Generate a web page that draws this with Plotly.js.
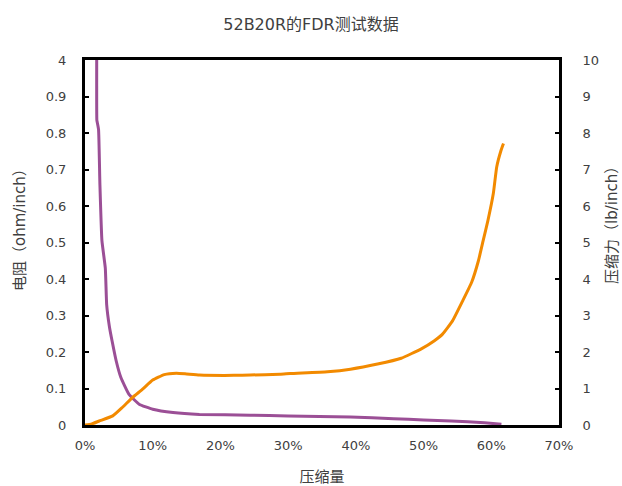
<!DOCTYPE html>
<html>
<head>
<meta charset="utf-8">
<script src="https://cdn.plot.ly/plotly-3.0.1.min.js"></script>
<style>html,body{margin:0;padding:0;background:#fff;}#chart{width:622px;height:486px;}</style>
</head>
<body>
<div id="chart"></div>
<script>
// Resistance series (left axis, ohm/inch)
var resX = [0.0175,0.0175,0.018,0.020,0.022,0.025,0.030,0.032,0.036,0.040,0.046,0.053,0.065,0.080,0.100,0.130,0.169,0.244,0.300,0.392,0.456,0.500,0.541,0.590,0.615];
var resY = [1.2,0.835,0.83,0.81,0.66,0.505,0.43,0.33,0.27,0.23,0.176,0.13,0.084,0.057,0.043,0.034,0.029,0.027,0.025,0.022,0.017,0.014,0.011,0.006,0.002];
// Compression force series (right axis, lb/inch)
var forceX = [0,0.010,0.021,0.041,0.055,0.070,0.085,0.100,0.117,0.135,0.150,0.169,0.220,0.244,0.288,0.303,0.358,0.392,0.432,0.467,0.496,0.516,0.528,0.543,0.558,0.571,0.581,0.588,0.595,0.603,0.608,0.614,0.618];
var forceY = [0,0.03,0.11,0.25,0.48,0.75,0.98,1.23,1.38,1.42,1.40,1.37,1.36,1.37,1.39,1.41,1.46,1.53,1.67,1.83,2.08,2.31,2.49,2.86,3.41,3.91,4.5,5.05,5.6,6.34,7.07,7.5,7.71];
// Tick labels
var leftTickVals = [0,0.1,0.2,0.3,0.4,0.5,0.6,0.7,0.8,0.9,1];
var leftTickText = ['0','0.1','0.2','0.3','0.4','0.5','0.6','0.7','0.8','0.9','4'];
var xTickVals = [0,0.1,0.2,0.3,0.4,0.5,0.6,0.7];
var xTickText = ['0%','10%','20%','30%','40%','50%','60%','70%'];

var W = 622, H = 486, L = 85, R = 63, T = 60, B = 61;
function px(x){ return (x - L) / (W - L - R); }
function py(y){ return 1 - (y - T) / (H - T - B); }

var font = '"DejaVu Sans", "Noto Sans CJK SC", sans-serif';
var txt = '#404040';
var traces = [
  {x: resX, y: resY, type: 'scatter', mode: 'lines', yaxis: 'y', line: {color: '#9B4F96', width: 3, shape: 'spline', smoothing: 0.4}, showlegend: false, hoverinfo: 'none'},
  {x: forceX, y: forceY, type: 'scatter', mode: 'lines', yaxis: 'y2', line: {color: '#F28A00', width: 3, shape: 'spline', smoothing: 0.4}, showlegend: false, hoverinfo: 'none'}
];
var layout = {
  width: W, height: H,
  margin: {l: L, r: R, t: T, b: B},
  paper_bgcolor: '#fff', plot_bgcolor: '#fff',
  font: {family: font, size: 13, color: txt},
  title: {text: '52B20R的FDR测试数据', x: 0.5, xanchor: 'center', y: 1 - 24 / H, yanchor: 'middle', font: {family: font, size: 16, color: txt}},
  xaxis: {
    range: [0, 0.7], tickvals: xTickVals, ticktext: xTickText,
    showgrid: false, zeroline: false, showline: true, linecolor: '#000', linewidth: 3, mirror: true,
    ticks: '', ticklabelstandoff: 6,
    title: {text: '压缩量', standoff: 22, font: {family: font, size: 15, color: txt}}
  },
  yaxis: {
    range: [0, 1], tickvals: leftTickVals, ticktext: leftTickText,
    showgrid: false, zeroline: false, showline: true, linecolor: '#000', linewidth: 3,
    ticks: 'inside', ticklen: 4, tickwidth: 2, tickcolor: '#000', ticklabelstandoff: 13
  },
  yaxis2: {
    range: [0, 10], dtick: 1, overlaying: 'y', side: 'right',
    showgrid: false, zeroline: false, showline: true, linecolor: '#000', linewidth: 3,
    ticks: 'inside', ticklen: 4, tickwidth: 2, tickcolor: '#000', ticklabelstandoff: 18
  },
  annotations: [
    {text: '电阻（ohm/inch）', xref: 'paper', yref: 'paper', x: px(20), y: py(226), xanchor: 'center', yanchor: 'middle', textangle: -90, showarrow: false, font: {family: font, size: 15, color: txt}},
    {text: '压缩力（lb/inch）', xref: 'paper', yref: 'paper', x: px(612), y: py(222), xanchor: 'center', yanchor: 'middle', textangle: -90, showarrow: false, font: {family: font, size: 15, color: txt}}
  ]
};
Plotly.newPlot('chart', traces, layout, {staticPlot: true, displayModeBar: false});
</script>
</body>
</html>
